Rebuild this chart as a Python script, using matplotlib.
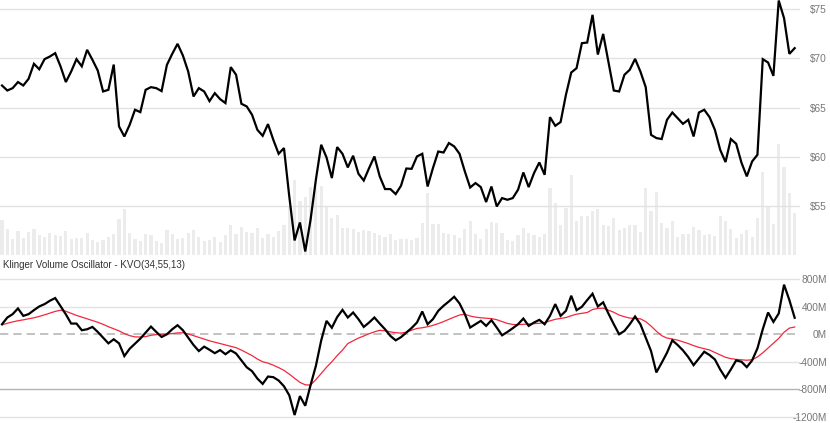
import matplotlib
matplotlib.use("Agg")
import matplotlib.pyplot as plt
import numpy as np

price = [67.25, 66.74, 66.98, 67.6, 67.25, 67.93, 69.46, 68.9, 69.93, 70.2,
         70.54, 69.2, 67.6, 68.67, 69.93, 69.2, 70.88, 69.86, 68.77, 66.64,
         66.81, 69.38, 63.08, 62.06, 63.25, 64.78, 64.54, 66.81, 67.08, 66.98,
         66.68, 69.35, 70.47, 71.49, 70.3, 68.67, 66.13, 66.98, 66.64, 65.66,
         66.47, 65.86, 65.46, 69.12, 68.34, 65.39, 65.12, 64.27, 62.74, 62.13,
         63.32, 61.72, 60.3, 60.88, 55.96, 51.48, 53.31, 50.36, 53.59, 57.66,
         61.22, 59.93, 57.83, 60.98, 60.3, 58.91, 60.1, 58.27, 57.58, 58.84,
         60.03, 58.0, 56.71, 56.71, 56.2, 57.05, 58.8, 58.77, 60.03, 60.3,
         56.97, 58.84, 60.53, 60.43, 61.39, 61.05, 60.3, 58.5, 56.87, 57.32,
         56.91, 55.39, 56.97, 54.94, 55.79, 55.62, 55.79, 56.64, 58.4, 56.91,
         58.33, 59.42, 58.16, 64.03, 63.15, 63.53, 66.3, 68.57, 69.01, 71.56,
         71.62, 74.44, 70.4, 72.5, 69.6, 66.74, 66.64, 68.34, 68.85, 69.96,
         68.67, 67.08, 62.23, 61.9, 61.8, 63.76, 64.5, 63.93, 63.35, 63.76,
         62.06, 64.5, 64.78, 64.03, 62.74, 60.7, 59.46, 61.8, 61.32, 59.39,
         58.0, 59.52, 60.2, 69.93, 69.59, 68.23, 75.9, 74.1, 70.47, 71.05]

volume_m = [17.5, 12.9, 7.9, 12, 8.7, 11.5, 12.9, 10, 8.9, 11,
            10, 9.5, 12, 8.2, 8.5, 8.5, 11, 7.5, 6.7, 7.5,
            8.9, 10.5, 18, 23, 11, 8, 7, 10.5, 10, 7.2,
            5.9, 12.5, 10.5, 8, 8.5, 11, 12.5, 9.2, 7, 7.7,
            8.9, 6.5, 10, 14.9, 10.7, 14.2, 11.7, 11.2, 13.4, 8.5,
            10.7, 9, 12, 15, 24.2, 37.5, 27.2, 29.2, 33.9, 34.2,
            34.5, 24.2, 18.4, 19.9, 13.4, 13.5, 13.2, 11.5, 12.5, 12,
            11, 10, 8.9, 10.5, 7.7, 7.9, 7.9, 7.5, 8.4, 16.2,
            31.2, 15.5, 15.5, 10.9, 10.4, 10.2, 8.7, 13, 17, 10.4,
            8.2, 13, 16.7, 16.2, 10.9, 7.5, 7.2, 10, 13.5, 10.9,
            10, 8.9, 10.5, 33.4, 25.9, 14.9, 23.7, 40, 17, 19.7,
            19.5, 21.9, 22.9, 14.9, 14.5, 18.4, 12.5, 13.4, 14.9, 14.9,
            11.7, 33.4, 22, 31.4, 16, 13.7, 17, 8.9, 10.4, 10.4,
            13.9, 12.5, 10, 10.7, 9.5, 19.7, 17.2, 12.9, 8.5, 10.4,
            12.5, 9.2, 18.4, 41.4, 24.2, 15.5, 55.5, 44.2, 30.9, 20.9]

kvo_m = [146, 244, 293, 376, 268, 293, 351, 405, 439, 488,
         527, 410, 290, 156, 156, 59, 73, 107, 34, -49,
         -132, -73, -132, -317, -210, -137, -63, 24, 112, 34,
         -39, 0, 73, 132, 59, -49, -156, -244, -180, -225,
         -275, -230, -290, -234, -280, -380, -480, -537, -644, -722,
         -615, -624, -673, -756, -888, -1175, -900, -1040, -740, -460,
         -90, 195, 95, 250, 355, 244, 317, 220, 107, 171,
         244, 156, 73, -24, -88, -42, 24, 92, 171, 332,
         146, 220, 341, 415, 478, 546, 449, 293, 98, 146,
         195, 122, 205, 98, -15, 34, 88, 146, 229, 122,
         171, 210, 146, 268, 439, 268, 341, 561, 351, 400,
         498, 590, 405, 465, 300, 146, 0, 49, 146, 259,
         146, -49, -244, -555, -415, -268, -88, -156, -234, -332,
         -449, -351, -254, -302, -366, -512, -634, -512, -380, -400,
         -478, -380, -205, 73, 317, 180, 302, 722, 498, 240]

signal_m = [137, 160, 180, 197, 210, 225, 240, 260, 283, 308,
            333, 350, 335, 305, 275, 250, 225, 200, 175, 145,
            110, 80, 50, 10, -20, -38, -40, -34, -15, -5,
            0, 2, 10, 20, 22, 5, -20, -45, -70, -95,
            -115, -135, -155, -175, -195, -230, -270, -310, -360, -400,
            -420, -450, -485, -525, -580, -640, -700, -735, -740, -660,
            -570, -480, -400, -310, -230, -135, -95, -55, -25, 8,
            35, 58, 50, 35, 22, 18, 30, 60, 85, 95,
            110, 130, 155, 185, 218, 250, 280, 292, 265, 250,
            240, 234, 228, 212, 185, 158, 143, 140, 145, 150,
            155, 160, 170, 195, 218, 230, 244, 270, 293, 305,
            317, 360, 376, 380, 350, 320, 280, 255, 236, 230,
            225, 185, 120, 45, -20, -55, -70, -85, -110, -135,
            -165, -190, -210, -228, -265, -300, -335, -355, -365, -372,
            -378, -370, -330, -270, -200, -130, -60, 30, 90, 106]

price_ticks = [55, 60, 65, 70, 75]
price_labels = ["$55", "$60", "$65", "$70", "$75"]
kvo_ticks = [-1200, -800, -400, 0, 400, 800]
kvo_labels = ["-1200M", "-800M", "-400M", "0M", "400M", "800M"]
title = "Klinger Volume Oscillator - KVO(34,55,13)"

plt.rcParams['font.family'] = ['Liberation Sans', 'DejaVu Sans']

W, H = 830, 423
fig = plt.figure(figsize=(W / 100, H / 100), dpi=100)
fig.patch.set_facecolor('white')

x = np.arange(len(price))
right = 800 / W
xlim = (-0.376, 150.0)

grid_c = '#e2e2e2'
label_c = '#777777'

# ---- top panel: price + volume ----
ax_v = fig.add_axes([0, (H - 255) / H, right, 255 / H])
ax_v.bar(x, volume_m, width=0.6, color='#ececec', zorder=1)
ax_v.set_ylim(0, 127.5)
ax_v.set_xlim(*xlim)
ax_v.axis('off')

ax_p = fig.add_axes([0, (H - 255) / H, right, 255 / H], sharex=ax_v)
ax_p.patch.set_alpha(0)
for t in price_ticks:
    ax_p.axhline(t, color=grid_c, lw=1.0, zorder=0)
ax_p.plot(x, price, color='black', lw=1.6, zorder=3, solid_joinstyle='miter')
ax_p.set_ylim(50.0, 75.95)
ax_p.set_xlim(*xlim)
for s in ax_p.spines.values():
    s.set_visible(False)
ax_p.set_xticks([])
ax_p.yaxis.tick_right()
ax_p.set_yticks(price_ticks)
ax_p.set_yticklabels(price_labels)
ax_p.tick_params(axis='y', length=0, pad=19.4, labelsize=7.3, labelcolor=label_c)
for lab in ax_p.get_yticklabels():
    lab.set_horizontalalignment('right')

# ---- bottom panel: KVO ----
ax_k = fig.add_axes([0, 0, right, (H - 258) / H])
for t in kvo_ticks:
    if t == 0:
        continue
    ax_k.axhline(t, color=('#b4b4b4' if t == -800 else grid_c), lw=1.0, zorder=0)
ax_k.axhline(0, color='#b8b8b8', lw=1.2, ls=(0, (5, 3)), zorder=1)
ax_k.plot(x, signal_m, color='#f2283c', lw=0.9, zorder=2)
ax_k.plot(x, kvo_m, color='black', lw=1.6, zorder=3, solid_joinstyle='miter')
ax_k.set_ylim(-1291, 1110)
ax_k.set_xlim(*xlim)
for s in ax_k.spines.values():
    s.set_visible(False)
ax_k.set_xticks([])
ax_k.yaxis.tick_right()
ax_k.set_yticks(kvo_ticks)
ax_k.set_yticklabels(kvo_labels)
ax_k.tick_params(axis='y', length=0, pad=19.4, labelsize=7.3, labelcolor=label_c)
for lab in ax_k.get_yticklabels():
    lab.set_horizontalalignment('right')
ax_k.text(0.004, 0.985, title, transform=ax_k.transAxes, ha='left', va='top',
          fontsize=7.0, color='#333333')

fig.savefig('out.png', dpi=100, facecolor='white')
